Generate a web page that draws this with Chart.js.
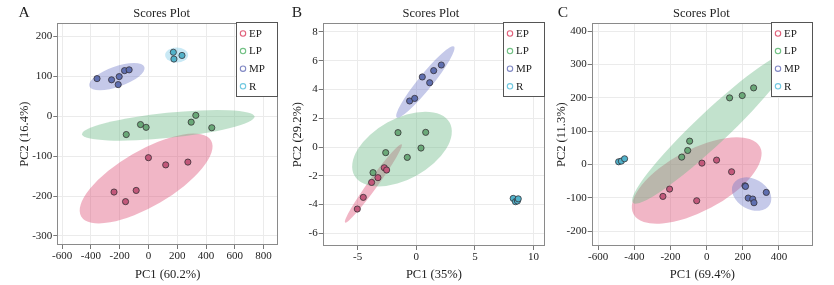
<!DOCTYPE html>
<html><head><meta charset="utf-8">
<script src="https://cdn.jsdelivr.net/npm/chart.js@4"></script>
<style>
html,body{margin:0;padding:0;background:#fff;width:834px;height:285px;overflow:hidden;position:relative}
canvas{position:absolute;top:0}
</style></head><body>
<canvas id="ca" width="282" height="285" style="left:0"></canvas>
<canvas id="cb" width="272" height="285" style="left:282px"></canvas>
<canvas id="cc" width="280" height="285" style="left:554px"></canvas>
<script>
const categories = ['EP','LP','MP','R'];

// Panel A
const aEP = [[0,-104],[120,-122],[274,-115],[-239,-190],[-85,-186],[-159,-214]];
const aLP = [[-154,-46],[-55,-21],[-16,-28],[297,-15],[329,2],[440,-29]];
const aMP = [[-357,94],[-256,91],[-203,99],[-210,79],[-166,114],[-134,116]];
const aR  = [[173,160],[177,143],[233,152]];
// ellipse: centre x, centre y, major-axis end x, end y, minor/major ratio
const aEllipses = [[-16,-156,435,-61,0.37],[138,-23,737,-1,0.145],[-219,99,-28,123,0.35],[196,153,276,153,0.65]];
const aXTicks = [-600,-400,-200,0,200,400,600,800];
const aYTicks = [-300,-200,-100,0,100,200];

// Panel B
const bEP = [[-5.03,-4.31],[-4.52,-3.5],[-3.81,-2.46],[-3.27,-2.13],[-2.73,-1.44],[-2.53,-1.6]];
const bLP = [[-3.69,-1.78],[-2.61,-0.39],[-1.56,1.0],[-0.77,-0.72],[0.4,-0.07],[0.8,1.02]];
const bMP = [[-0.57,3.2],[-0.14,3.38],[0.51,4.87],[1.14,4.47],[1.48,5.31],[2.13,5.7]];
const bR  = [[8.26,-3.57],[8.45,-3.8],[8.62,-3.75],[8.69,-3.6]];
const bEllipses = [[-3.66,-2.53,-1.25,0.19,0.1],[-1.22,-0.14,2.84,1.7,0.555],[0.77,4.52,3.21,6.98,0.16],[8.5,-3.68,8.85,-3.68,0.6]];
const bXTicks = [-5,0,5,10];
const bYTicks = [-6,-4,-2,0,2,4,6,8];

// Panel C
const cEP = [[-242,-96],[-205,-74],[-26,4],[55,13],[138,-22],[-55,-109]];
const cLP = [[-138,22],[-105,42],[-94,70],[127,200],[197,207],[260,230]];
const cMP = [[212,-64],[215,-66],[230,-101],[255,-104],[262,-115],[330,-84]];
const cR  = [[-487,8],[-472,10],[-454,17]];
const cEllipses = [[-55,-48,295,53,0.43],[31,110,470,335,0.15],[249,-89,350,-120,0.72],[-470,12,-440,20,0.45]];
const cXTicks = [-600,-400,-200,0,200,400];
const cYTicks = [-200,-100,0,100,200,300,400];

const pointFill = ['#c2587a','#6aa878','#5f6fb0','#52b2ca'];
const legendStroke = ['#e0607a','#72c084','#8088c4','#70c8e0'];
const ellipseFill = ['rgba(222,80,120,0.42)','rgba(110,185,135,0.42)','rgba(110,120,200,0.4)','rgba(120,200,230,0.4)'];
const FONT = "'Liberation Serif', 'DejaVu Serif', serif";

const panelPlugin = {
  id: 'panel',
  beforeDatasetsDraw(chart, args, o) {
    const {ctx, chartArea: ca, scales: {x, y}} = chart;
    ctx.save();
    ctx.beginPath(); ctx.rect(ca.left, ca.top, ca.width, ca.height); ctx.clip();
    o.ellipses.forEach((e, i) => {
      const cx = x.getPixelForValue(e[0]), cy = y.getPixelForValue(e[1]);
      const ex = x.getPixelForValue(e[2]), ey = y.getPixelForValue(e[3]);
      const a = Math.hypot(ex - cx, ey - cy), ang = Math.atan2(ey - cy, ex - cx);
      ctx.beginPath(); ctx.ellipse(cx, cy, a, a * e[4], ang, 0, Math.PI * 2);
      ctx.fillStyle = ellipseFill[i]; ctx.fill();
    });
    ctx.restore();
  },
  afterDraw(chart, args, o) {
    const {ctx, chartArea: ca} = chart;
    ctx.save();
    ctx.strokeStyle = '#8a8a8a'; ctx.lineWidth = 1;
    ctx.strokeRect(Math.round(ca.left) + 0.5, Math.round(ca.top) + 0.5, Math.round(ca.width) - 1, Math.round(ca.height) - 1);
    // legend
    const lw = 42, lh = 74, lx = Math.round(ca.right) - lw, ly = Math.round(ca.top) - 1;
    ctx.fillStyle = '#fff'; ctx.fillRect(lx, ly, lw, lh);
    ctx.strokeStyle = '#555'; ctx.strokeRect(lx + 0.5, ly + 0.5, lw - 1, lh);
    ctx.font = '11px ' + FONT; ctx.textBaseline = 'middle'; ctx.textAlign = 'left';
    categories.forEach((c, i) => {
      const yy = ly + 11.5 + i * 17.6;
      ctx.beginPath(); ctx.arc(lx + 7, yy, 2.7, 0, Math.PI * 2);
      ctx.strokeStyle = legendStroke[i]; ctx.lineWidth = 1.1; ctx.stroke();
      ctx.fillStyle = '#222'; ctx.fillText(c, lx + 13, yy + 0.5);
    });
    // title and letter
    ctx.fillStyle = '#222'; ctx.textAlign = 'center';
    ctx.font = '12.5px ' + FONT;
    ctx.fillText('Scores Plot', (ca.left + ca.right) / 2 + o.titleShift, 14);
    ctx.font = '15.5px ' + FONT;
    ctx.fillText(o.letter, o.letterX, 13);
    ctx.restore();
  }
};

function axis(min, max, ticks, title, isX, size, titlePad) {
  return {
    type: 'linear', min, max,
    afterBuildTicks: s => { s.ticks = ticks.map(v => ({value: v})); },
    afterFit: s => { if (isX) s.height = size; else s.width = size; },
    grid: {color: '#ebebeb', tickColor: '#777', tickLength: 4, lineWidth: 1},
    border: {display: false},
    ticks: {font: {family: FONT, size: 11}, color: '#222', padding: 1, autoSkip: false, maxRotation: 0,
      callback: v => String(v)},
    title: {display: true, text: title, color: '#222', font: {family: FONT, size: 12.5},
      padding: isX ? {top: 0, bottom: titlePad} : {top: titlePad, bottom: 0}}
  };
}

function makeDatasets(groups) {
  return groups.map((g, i) => ({
    label: categories[i],
    data: g.map(p => ({x: p[0], y: p[1]})),
    backgroundColor: pointFill[i],
    borderColor: 'rgba(50,45,50,0.85)',
    borderWidth: 0.9,
    pointRadius: 3.1,
    pointHoverRadius: 3.1
  }));
}

function makeChart(id, groups, ellipses, xr, yr, xt, yt, xTitle, yTitle, xh, yw, padR, yTitlePad, letter, letterX, titleShift) {
  new Chart(document.getElementById(id), {
    type: 'scatter',
    data: {datasets: makeDatasets(groups)},
    options: {
      responsive: false, animation: false, devicePixelRatio: 1,
      layout: {padding: {left: 0, right: padR, top: 23.3, bottom: 0}},
      plugins: {legend: {display: false}, tooltip: {enabled: false},
        panel: {ellipses, letter, letterX, titleShift}},
      scales: {
        x: axis(xr[0], xr[1], xt, xTitle, true, xh, 2.5),
        y: axis(yr[0], yr[1], yt, yTitle, false, yw, yTitlePad)
      }
    },
    plugins: [panelPlugin]
  });
}

makeChart('ca', [aEP, aLP, aMP, aR], aEllipses, [-633, 900], [-322.6, 232.5], aXTicks, aYTicks,
  'PC1 (60.2%)', 'PC2 (16.4%)', 40, 57.3, 2.7, 17.5, 'A', 24, -6);
makeChart('cb', [bEP, bLP, bMP, bR], bEllipses, [-7.98, 10.97], [-6.88, 8.6], bXTicks, bYTicks,
  'PC1 (35%)', 'PC2 (29.2%)', 39, 40.7, 9, 8.5, 'B', 15, -3);
makeChart('cc', [cEP, cLP, cMP, cR], cEllipses, [-636, 588.5], [-245, 424], cXTicks, cYTicks,
  'PC1 (69.4%)', 'PC2 (11.3%)', 39, 37.7, 21, 0.5, 'C', 9, -1);
</script>
</body></html>
